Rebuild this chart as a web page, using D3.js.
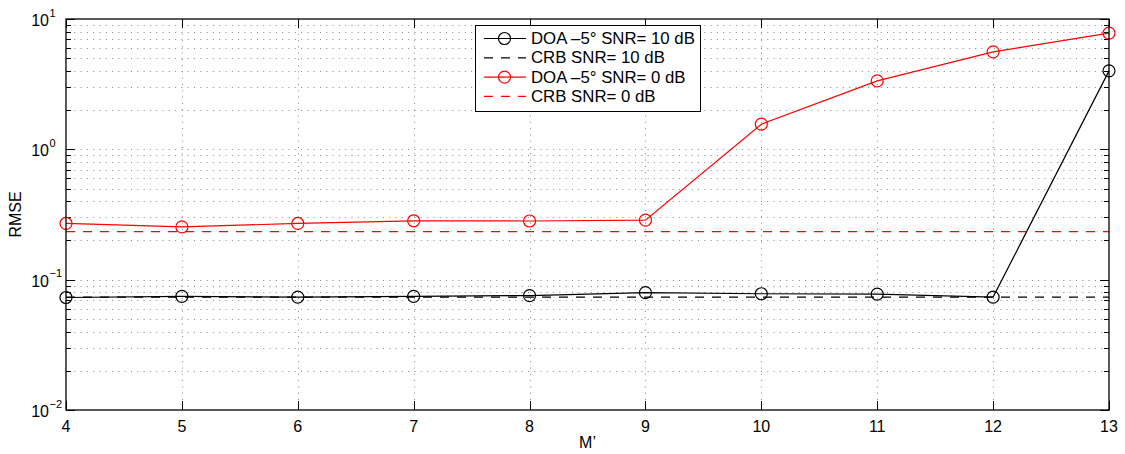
<!DOCTYPE html>
<html><head><meta charset="utf-8">
<script src="https://cdn.jsdelivr.net/npm/d3@7"></script>
<style>
html,body{margin:0;padding:0;background:#fff;}
svg{display:block;font-family:"Liberation Sans",Arial,Helvetica,sans-serif;}
</style></head>
<body><svg id="chart" width="1125" height="454"></svg>
<script>
const xValues = [4, 5, 6, 7, 8, 9, 10, 11, 12, 13];
const doa10 = [0.073, 0.0745, 0.0735, 0.0745, 0.0755, 0.0795, 0.078, 0.0775, 0.0735, 4.0];
const crb10 = [0.0735, 0.0735, 0.0735, 0.0735, 0.0735, 0.0735, 0.0735, 0.0735, 0.0735, 0.0735];
const doa0 = [0.270, 0.254, 0.270, 0.283, 0.282, 0.286, 1.56, 3.35, 5.6, 7.8];
const crb0 = [0.234, 0.234, 0.234, 0.234, 0.234, 0.234, 0.234, 0.234, 0.234, 0.234];
const xTicks = [4, 5, 6, 7, 8, 9, 10, 11, 12, 13];
const yMajorExps = [-2, -1, 0, 1];
const legendLabels = ["DOA \u20135\u00b0 SNR= 10 dB", "CRB SNR= 10 dB", "DOA \u20135\u00b0 SNR= 0 dB", "CRB SNR= 0 dB"];
const xLabel = "M\u2019";
const yLabel = "RMSE";

const svg = d3.select("#chart");
const L = 66, R = 1109, T = 19, B = 410;
const x = d3.scaleLinear().domain([4, 13]).range([L, R]);
const y = d3.scaleLog().domain([0.01, 10]).range([B, T]);

const minorVals = [];
for (let e = -2; e <= 0; e++) for (let m = 2; m <= 9; m++) minorVals.push(m * Math.pow(10, e));
const majorVals = yMajorExps.map(e => Math.pow(10, e));

const grid = svg.append("g").attr("stroke", "#555").attr("stroke-width", 1).attr("stroke-dasharray", "1,5.3").attr("fill", "none").attr("opacity", 0.7);
majorVals.concat(minorVals).forEach(v => {
  if (v <= 0.01 || v >= 10) return;
  const yy = Math.round(y(v)) + 0.5;
  grid.append("line").attr("x1", L + 2).attr("x2", R).attr("y1", yy).attr("y2", yy);
});
xTicks.slice(1, -1).forEach(t => {
  const xx = Math.round(x(t)) + 0.5;
  grid.append("line").attr("x1", xx).attr("x2", xx).attr("y1", T + 2).attr("y2", B);
});

const tk = svg.append("g").attr("stroke", "#000").attr("stroke-width", 1);
xTicks.forEach(t => {
  const xx = Math.round(x(t)) + 0.5;
  tk.append("line").attr("x1", xx).attr("x2", xx).attr("y1", B).attr("y2", B - 9);
  tk.append("line").attr("x1", xx).attr("x2", xx).attr("y1", T).attr("y2", T + 9);
});
majorVals.forEach(v => {
  const yy = Math.round(y(v)) + 0.5;
  tk.append("line").attr("x1", L).attr("x2", L + 9).attr("y1", yy).attr("y2", yy);
  tk.append("line").attr("x1", R).attr("x2", R - 9).attr("y1", yy).attr("y2", yy);
});
minorVals.forEach(v => {
  const yy = Math.round(y(v)) + 0.5;
  tk.append("line").attr("x1", L).attr("x2", L + 5).attr("y1", yy).attr("y2", yy);
  tk.append("line").attr("x1", R).attr("x2", R - 5).attr("y1", yy).attr("y2", yy);
});

const line = d3.line().x((d, i) => x(xValues[i])).y(d => y(d));
function series(data, color, dash, markers) {
  svg.append("path").datum(data).attr("d", line).attr("fill", "none")
    .attr("stroke", color).attr("stroke-width", 1.2).attr("stroke-dasharray", dash || null);
  if (markers) {
    svg.append("g").selectAll("circle").data(data).join("circle")
      .attr("cx", (d, i) => x(xValues[i])).attr("cy", d => y(d)).attr("r", 6)
      .attr("fill", "none").attr("stroke", color).attr("stroke-width", 1.2);
  }
}
series(crb10, "#000000", "9,8", false);
series(crb0, "#ff0000", "9,8", false);
series(doa10, "#000000", null, true);
series(doa0, "#ff0000", null, true);

svg.append("rect").attr("x", L).attr("y", T).attr("width", R - L).attr("height", B - T)
  .attr("fill", "none").attr("stroke", "#000").attr("stroke-width", 1.3);

svg.append("g").selectAll("text").data(xTicks).join("text")
  .attr("x", d => x(d)).attr("y", 432).attr("text-anchor", "middle")
  .attr("font-size", 16).attr("fill", "#000").text(d => d);

yMajorExps.forEach(e => {
  const yy = y(Math.pow(10, e));
  svg.append("text").attr("x", 49).attr("y", yy + 7).attr("text-anchor", "end")
    .attr("font-size", 16).attr("fill", "#000").text("10");
  svg.append("text").attr("x", 49.5).attr("y", yy - 2.5).attr("text-anchor", "start")
    .attr("font-size", 11).attr("fill", "#000").text(e < 0 ? "\u2212" + Math.abs(e) : String(e));
});

svg.append("text").attr("x", x(8.5)).attr("y", 448).attr("text-anchor", "middle")
  .attr("font-size", 16).attr("fill", "#000").text(xLabel);
svg.append("text").attr("transform", "translate(21," + ((T + B) / 2) + ") rotate(-90)")
  .attr("text-anchor", "middle").attr("font-size", 16).attr("fill", "#000").text(yLabel);

const lg = svg.append("g");
lg.append("rect").attr("x", 475.5).attr("y", 25.5).attr("width", 225).attr("height", 86)
  .attr("fill", "#fff").attr("stroke", "#000").attr("stroke-width", 1);
const legendStyles = [
  {c: "#000", dash: null, m: true},
  {c: "#000", dash: "9,8", m: false},
  {c: "#ff0000", dash: null, m: true},
  {c: "#ff0000", dash: "9,8", m: false}
];
legendLabels.forEach((lab, i) => {
  const yy = 38.5 + i * 19.3;
  const s = legendStyles[i];
  lg.append("line").attr("x1", 484).attr("x2", 526).attr("y1", yy).attr("y2", yy)
    .attr("stroke", s.c).attr("stroke-width", 1.2).attr("stroke-dasharray", s.dash);
  if (s.m) lg.append("circle").attr("cx", 504.5).attr("cy", yy).attr("r", 6)
    .attr("fill", "none").attr("stroke", s.c).attr("stroke-width", 1.2);
  lg.append("text").attr("x", 531).attr("y", yy + 5.5).attr("font-size", 16.8)
    .attr("fill", "#000").text(lab);
});
</script></body></html>
